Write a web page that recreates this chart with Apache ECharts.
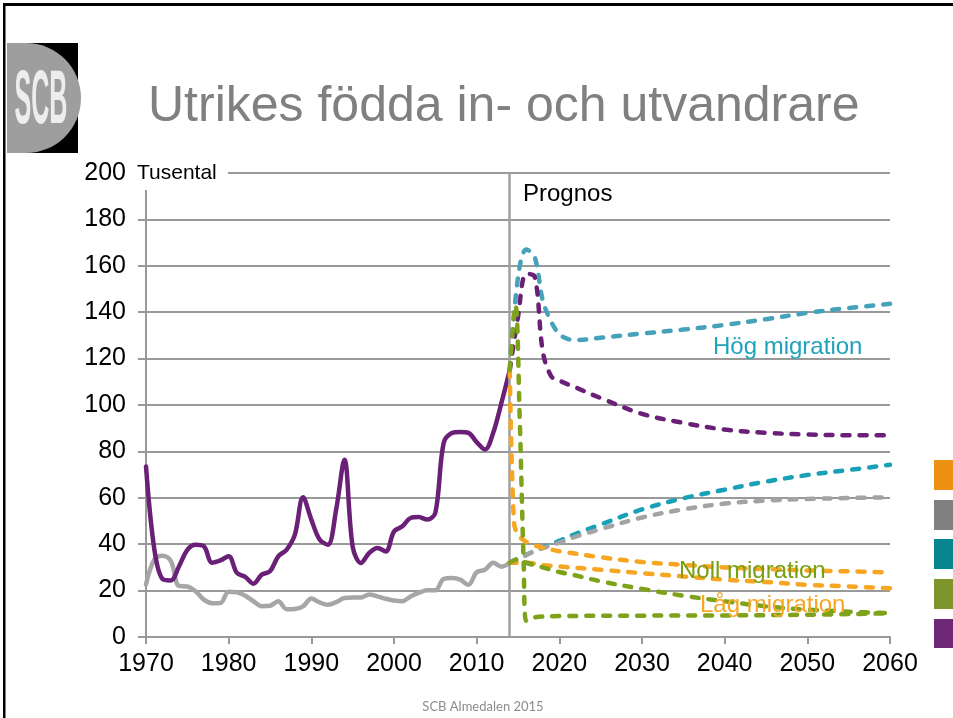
<!DOCTYPE html>
<html><head><meta charset="utf-8">
<script src="https://cdn.jsdelivr.net/npm/echarts@6/dist/echarts.min.js"></script>
<style>html,body{margin:0;padding:0;background:#fff;}#c{width:953px;height:718px;}</style>
</head><body><div id="c"></div>
<script>
// ---------- data (thousands) ----------
const histYears = [1970,1971,1972,1973,1974,1975,1976,1977,1978,1979,1980,1981,1982,1983,1984,1985,1986,1987,1988,1989,1990,1991,1992,1993,1994,1995,1996,1997,1998,1999,2000,2001,2002,2003,2004,2005,2006,2007,2008,2009,2010,2011,2012,2013,2014];
const histImmigration = [73.5,38,25,24.4,30.5,37.6,39.8,39.1,32,33,34.8,27.6,25.9,23,26.9,28.3,34.8,37.6,44,60.2,50.6,42,39.8,54.9,76.4,39,31.9,36.2,38.4,36.9,45.5,47.7,51.3,51.7,50.6,53.5,83.5,87.9,88.4,88,84,80.8,88,101,115];
const histEmigration = [22.6,33.3,35,32.8,22,21.8,19.7,16.1,14.6,14.7,19.5,19.3,17.8,15.4,13.3,13.5,15.4,12,12.1,13.2,16.6,14.9,13.9,15,16.8,17,17,18.3,17.5,16.5,15.7,15.4,17.5,19,20.1,20.1,25,25.4,24.7,22.5,27.9,29,32,30.3,32];

const mainImmYears = [2014,2015,2016,2017,2018,2019,2020,2022,2025,2030,2035,2040,2045,2050,2055,2060];
const mainImm = [115,138,156.5,155.5,123,112.5,110.5,107.5,103,96.2,92.3,89.4,88,87.3,87,87];
const mainEmiYears = [2014,2015,2017,2020,2022,2025,2030,2035,2040,2045,2050,2055,2060];
const mainEmi = [32,33.5,37,40.7,43.3,46.5,51.5,55,57.5,58.8,59.5,59.9,60.2];

const highImmYears = [2014,2015,2016,2017,2018,2019,2020,2021,2022,2025,2030,2035,2040,2045,2050,2055,2060];
const highImm = [115,155,167,164,145,136,130.5,128.5,128,129,130.8,132.5,134.5,137,139.7,141.8,143.6];
const highEmiYears = [2014,2015,2017,2020,2022,2025,2030,2035,2040,2045,2050,2055,2060];
const highEmi = [32,33.8,37,41.5,44.5,48.5,55,59.8,63.5,67,69.8,72,74.2];

const lowImmYears = [2014,2014.5,2015,2016,2017,2018,2020,2025,2030,2035,2040,2045,2050,2055,2060];
const lowImm = [115,50,44,41,39.5,38.5,37,34.4,32.3,31.1,30,29.3,28.7,28.3,27.8];
const lowEmiYears = [2014,2016,2018,2020,2025,2030,2035,2040,2045,2050,2055,2060];
const lowEmi = [32,32,31,30.4,29,27.5,26.1,24.7,23.7,22.5,21.8,21];

const zeroImmYears = [2014,2014.7,2015.2,2015.7,2016,2017,2020,2030,2040,2050,2060];
const zeroImm = [115,143,95,30,7,8.5,9,9.2,9.3,9.6,10.2];
const zeroEmiYears = [2014,2015,2016,2018,2020,2022,2025,2030,2035,2040,2045,2050,2055,2060];
const zeroEmi = [32,33.5,32,30,28,26.5,24,20.7,17.8,15.4,13.2,11.8,10.9,10.3];

const yTicks = [0,20,40,60,80,100,120,140,160,180,200];
const xTicks = [1970,1980,1990,2000,2010,2020,2030,2040,2050,2060];

// ---------- helpers ----------
const pairs = (xs, ys) => xs.map((x, i) => [x, ys[i]]);
const FONT = 'Liberation Sans, Arial, sans-serif';
function solid(name, xs, ys, color, extra) {
  return Object.assign({
    name, type: 'line', data: pairs(xs, ys), smooth: 0.35, symbol: 'none',
    lineStyle: { color, width: 4.5, cap: 'round', join: 'round' }, z: 3
  }, extra || {});
}
function dashed(name, xs, ys, color, z) {
  return {
    name, type: 'line', data: pairs(xs, ys), smooth: 0.35, symbol: 'none',
    lineStyle: { color, width: 4.5, type: [7, 10], cap: 'round', join: 'round' }, z: z || 4
  };
}

const chart = echarts.init(document.getElementById('c'), null, { renderer: 'canvas' });
chart.setOption({
  animation: false,
  backgroundColor: '#ffffff',
  grid: { left: 146, right: 63, top: 173, bottom: 81, containLabel: false },
  xAxis: {
    type: 'value', min: xTicks[0], max: xTicks[xTicks.length - 1], interval: 10,
    axisLine: { show: true, lineStyle: { color: '#999999', width: 2 } },
    axisTick: { show: true, length: 7, lineStyle: { color: '#999999', width: 2 } },
    axisLabel: { show: true, margin: 15, fontSize: 25, color: '#000', fontFamily: FONT,
      showMinLabel: true, showMaxLabel: true, formatter: v => String(v) },
    splitLine: { show: false }
  },
  yAxis: {
    type: 'value', min: yTicks[0], max: yTicks[yTicks.length - 1], interval: 20,
    axisLine: { show: true, lineStyle: { color: '#999999', width: 2 } },
    axisTick: { show: true, length: 8, lineStyle: { color: '#999999', width: 2 } },
    axisLabel: { show: true, margin: 20, fontSize: 25, color: '#000', fontFamily: FONT,
      showMinLabel: true, showMaxLabel: true },
    splitLine: { show: true, lineStyle: { color: '#999999', width: 2 } }
  },
  series: [
    solid('Utvandrare', histYears, histEmigration, '#A6A6A6', {
      markLine: { symbol: 'none', silent: true, label: { show: false },
        lineStyle: { color: '#A0A0A0', width: 2.5, type: 'solid' }, data: [{ xAxis: 2014 }] }
    }),
    solid('Invandrare', histYears, histImmigration, '#6B2078'),
    dashed('Hög utv', highEmiYears, highEmi, '#17A0B6', 4),
    dashed('Huvud utv', mainEmiYears, mainEmi, '#A3A3A3', 4),
    dashed('Hög inv', highImmYears, highImm, '#45A2BA', 5),
    dashed('Huvud inv', mainImmYears, mainImm, '#6B2078', 6),
    dashed('Låg inv', lowImmYears, lowImm, '#F7A623', 6),
    dashed('Låg utv', lowEmiYears, lowEmi, '#F7A623', 6),
    dashed('Noll utv', zeroEmiYears, zeroEmi, '#7EA31B', 7),
    dashed('Noll inv', zeroImmYears, zeroImm, '#7EA31B', 7)
  ],
  graphic: [
    // slide border
    { type: 'rect', shape: { x: 3, y: 3, width: 950, height: 3 }, style: { fill: '#000' }, z: 100 },
    { type: 'rect', shape: { x: 3, y: 3, width: 2.5, height: 715 }, style: { fill: '#000' }, z: 100 },
    // logo
    { type: 'rect', shape: { x: 7, y: 43, width: 71, height: 110 }, style: { fill: '#000' }, z: 100 },
    { type: 'rect', shape: { x: 7, y: 43, width: 20, height: 110 }, style: { fill: '#9E9E9E' }, z: 101 },
    { type: 'sector', shape: { cx: 26, cy: 98, r0: 0, r: 55, startAngle: -Math.PI / 2, endAngle: Math.PI / 2 },
      style: { fill: '#9E9E9E' }, z: 101 },
    { type: 'text', x: 41, y: 102, scaleX: 0.33, z: 102,
      style: { text: 'SCB', fontSize: 76, fontWeight: 'bold', fontFamily: FONT, fill: '#EDEDED',
        align: 'center', verticalAlign: 'middle' } },
    // title
    { type: 'text', x: 148, y: 107, z: 100,
      style: { text: 'Utrikes födda in- och utvandrare', fontSize: 50, fontFamily: FONT, fill: '#808080',
        verticalAlign: 'middle' } },
    // unit label box
    { type: 'rect', shape: { x: 130, y: 161, width: 98, height: 29 }, style: { fill: '#fff' }, z: 100 },
    { type: 'text', x: 137, y: 173, z: 101,
      style: { text: 'Tusental', fontSize: 21, fontFamily: FONT, fill: '#000', verticalAlign: 'middle' } },
    { type: 'text', x: 523, y: 194, z: 101,
      style: { text: 'Prognos', fontSize: 24, fontFamily: FONT, fill: '#000', verticalAlign: 'middle' } },
    // scenario labels
    { type: 'text', x: 713, y: 347, z: 101,
      style: { text: 'Hög migration', fontSize: 24, fontFamily: FONT, fill: '#1FA3BA', verticalAlign: 'middle' } },
    { type: 'text', x: 679, y: 571, z: 101,
      style: { text: 'Noll migration', fontSize: 24, fontFamily: FONT, fill: '#76A012', verticalAlign: 'middle' } },
    { type: 'text', x: 700, y: 605, z: 101,
      style: { text: 'Låg migration', fontSize: 24, fontFamily: FONT, fill: '#F7A623', verticalAlign: 'middle' } },
    // cut-off legend squares at right edge
    { type: 'rect', shape: { x: 934, y: 460, width: 19, height: 30 }, style: { fill: '#EC9112' }, z: 100 },
    { type: 'rect', shape: { x: 934, y: 500, width: 19, height: 30 }, style: { fill: '#808080' }, z: 100 },
    { type: 'rect', shape: { x: 934, y: 539, width: 19, height: 30 }, style: { fill: '#07868F' }, z: 100 },
    { type: 'rect', shape: { x: 934, y: 579, width: 19, height: 30 }, style: { fill: '#7E952E' }, z: 100 },
    { type: 'rect', shape: { x: 934, y: 619, width: 19, height: 29 }, style: { fill: '#6F2878' }, z: 100 },
    // footer
    { type: 'text', x: 483, y: 707, z: 101,
      style: { text: 'SCB Almedalen 2015', fontSize: 13, fontFamily: 'Lato, Open Sans, sans-serif', fill: '#8C8C8C',
        align: 'center', verticalAlign: 'middle' } }
  ]
});
</script>
</body></html>
